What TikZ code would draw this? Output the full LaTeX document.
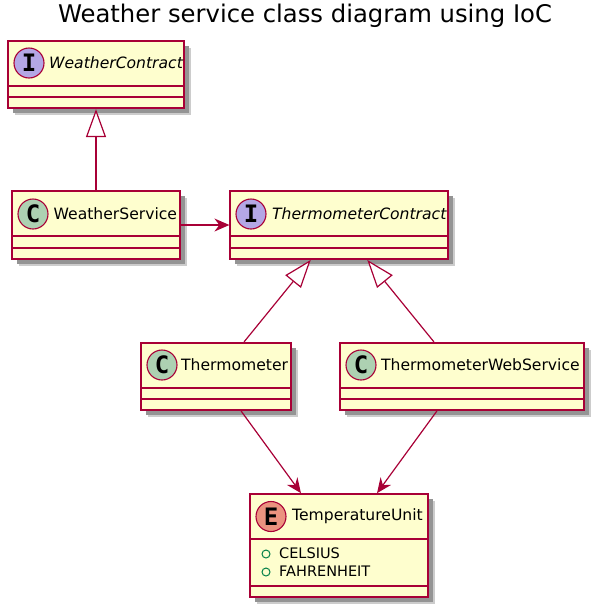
\documentclass[tikz,border=0pt]{standalone}
\usepackage{fontspec}
\setmainfont{DejaVu Sans}
\newfontfamily\badgefont{DejaVu Sans Mono}
\usetikzlibrary{arrows.meta,shadows}
\definecolor{umlline}{HTML}{A80036}
\definecolor{umlfill}{HTML}{FEFECE}
\definecolor{umlgreen}{HTML}{038048}
\definecolor{ibadge}{HTML}{B4A7E5}
\definecolor{cbadge}{HTML}{ADD1B2}
\definecolor{ebadge}{HTML}{EB937F}
\tikzset{
    umlbox/.style={draw=umlline,fill=umlfill,line width=1.7pt,inner sep=0pt,
        drop shadow={shadow xshift=7pt,shadow yshift=-7pt,fill=black!20,opacity=1},
        drop shadow={shadow xshift=5pt,shadow yshift=-5pt,fill=black!42,opacity=1}},
    badge/.style={draw=umlline,circle,line width=1.1pt,minimum size=30pt,inner sep=0pt,
        font=\badgefont\fontsize{24}{24}\selectfont\bfseries},
    umltext/.style={anchor=west,inner sep=0pt,font=\fontsize{15.6}{18}\selectfont},
    membertext/.style={anchor=west,inner sep=0pt,font=\fontsize{14.5}{16}\selectfont},
    umlrule/.style={draw=umlline,line width=1.5pt},
    valuedot/.style={draw=umlgreen,circle,minimum size=8pt,inner sep=0pt,line width=1pt},
    assoc/.style={draw=umlline,line width=1.2pt,-{Stealth[length=15pt,width=13pt,inset=5pt]}},
    extends/.style={draw=umlline,line width=1.2pt,-{Triangle[open,length=28pt,width=20pt,fill=white]}},
}
\begin{document}
\begin{tikzpicture}[x=1pt,y=-1pt]
    \useasboundingbox (0,0) rectangle (597,611);
    \node[inner sep=0pt,font=\fontsize{24.3}{28}\selectfont] (title) at (305,16) {Weather service class diagram using IoC};

    % boxes
    \node[umlbox,minimum width=176pt,minimum height=67.5pt] (wcontract) at (96,74.5) {};
    \node[umlbox,minimum width=168pt,minimum height=68pt] (wservice) at (96,225) {};
    \node[umlbox,minimum width=217.5pt,minimum height=68pt] (tcontract) at (339,225) {};
    \node[umlbox,minimum width=150pt,minimum height=67.5pt] (thermo) at (216,376.5) {};
    \node[umlbox,minimum width=244pt,minimum height=67.5pt] (webservice) at (462,376.5) {};
    \node[umlbox,minimum width=177.5pt,minimum height=103pt] (tempunit) at (339,545.5) {};

    % compartment lines
    \draw[umlrule] (wcontract.west |- 0,86) -- (wcontract.east |- 0,86);
    \draw[umlrule] (wcontract.west |- 0,97) -- (wcontract.east |- 0,97);
    \draw[umlrule] (wservice.west |- 0,236) -- (wservice.east |- 0,236);
    \draw[umlrule] (wservice.west |- 0,248) -- (wservice.east |- 0,248);
    \draw[umlrule] (tcontract.west |- 0,236) -- (tcontract.east |- 0,236);
    \draw[umlrule] (tcontract.west |- 0,248) -- (tcontract.east |- 0,248);
    \draw[umlrule] (thermo.west |- 0,388) -- (thermo.east |- 0,388);
    \draw[umlrule] (thermo.west |- 0,399) -- (thermo.east |- 0,399);
    \draw[umlrule] (webservice.west |- 0,388) -- (webservice.east |- 0,388);
    \draw[umlrule] (webservice.west |- 0,399) -- (webservice.east |- 0,399);
    \draw[umlrule] (tempunit.west |- 0,539) -- (tempunit.east |- 0,539);
    \draw[umlrule] (tempunit.west |- 0,586) -- (tempunit.east |- 0,586);

    % badges
    \node[badge,fill=ibadge] (wcontractbadge) at (29,63) {I};
    \node[badge,fill=cbadge] (wservicebadge) at (33,214) {C};
    \node[badge,fill=ibadge] (tcontractbadge) at (251,214) {I};
    \node[badge,fill=cbadge] (thermobadge) at (162,365) {C};
    \node[badge,fill=cbadge] (webservicebadge) at (361,365) {C};
    \node[badge,fill=ebadge] (tempunitbadge) at (271,516.5) {E};

    % names
    \node[umltext] (wcontractname) at (49,63) {\itshape WeatherContract};
    \node[umltext] (wservicename) at (53.5,214) {WeatherService};
    \node[umltext] (tcontractname) at (272,214) {\itshape ThermometerContract};
    \node[umltext] (thermoname) at (181,365) {Thermometer};
    \node[umltext] (webservicename) at (381,365) {ThermometerWebService};
    \node[umltext] (tempunitname) at (292,516) {TemperatureUnit};

    % enum values
    \node[valuedot] (celsiusdot) at (266,554) {};
    \node[valuedot] (fahrenheitdot) at (266,572) {};
    \node[membertext] (celsius) at (279,553.5) {CELSIUS};
    \node[membertext] (fahrenheit) at (279,571.5) {FAHRENHEIT};

    % connectors
    \draw[extends] (wservice) -- (wcontract);
    \draw[extends] (thermo) -- (tcontract);
    \draw[extends] (webservice) -- (tcontract);
    \draw[assoc] (wservice) -- (tcontract);
    \draw[assoc] (thermo) -- (tempunit);
    \draw[assoc] (webservice) -- (tempunit);
\end{tikzpicture}
\end{document}
